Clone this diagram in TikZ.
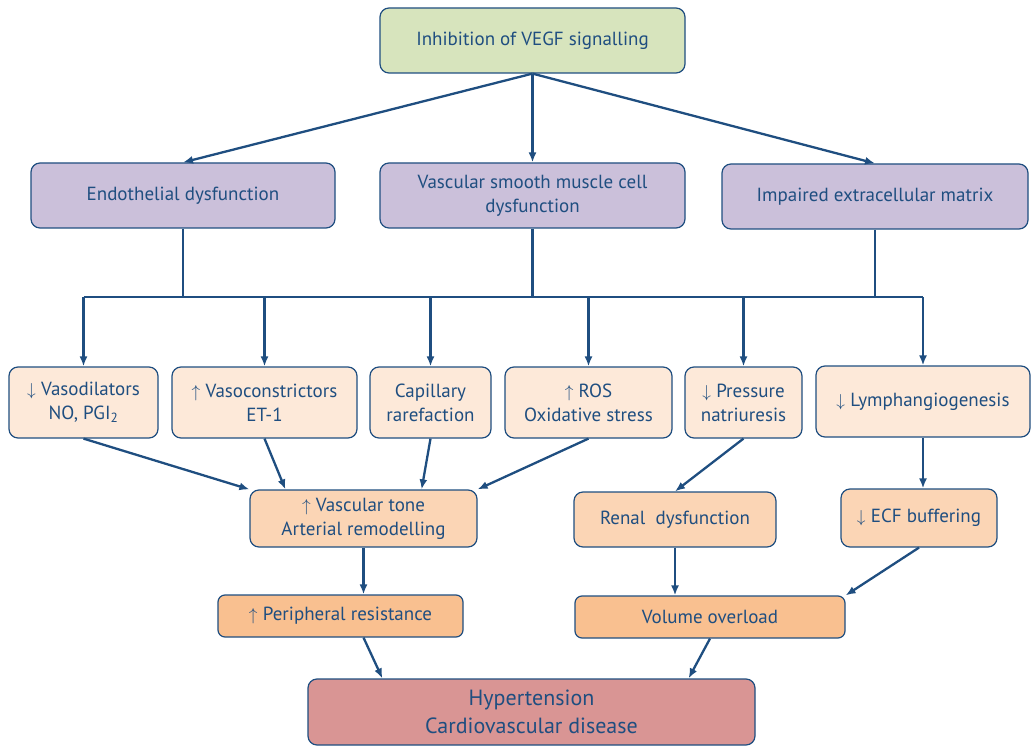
\documentclass[tikz,border=0pt]{standalone}
\usepackage{fontspec}
\setmainfont{PT Sans}
\usetikzlibrary{arrows.meta,positioning}

\definecolor{ink}{HTML}{1F4E80}
\definecolor{topfill}{HTML}{D7E4BD}
\definecolor{midfill}{HTML}{CBC0DA}
\definecolor{lowfill}{HTML}{FDE9D9}
\definecolor{tonefill}{HTML}{FBD5B5}
\definecolor{loadfill}{HTML}{F9C090}
\definecolor{endfill}{HTML}{D99594}

\tikzset{
  box/.style={draw=ink, line width=1.2pt, rounded corners=9pt, text=ink,
    align=center, inner sep=0pt, font=\fontsize{19}{24}\selectfont},
  link/.style={draw=ink, line width=2.3pt},
  fine/.style={draw=ink, line width=1.1pt}
}
\newcommand{\upa}{$\uparrow$\;}
\newcommand{\dna}{$\downarrow$\;}

\begin{document}
\begin{tikzpicture}[x=1pt,y=-1pt,>={Latex[length=10pt,width=8pt]}]
  \useasboundingbox (0,0) rectangle (1031,746);
  \node[box, fill=topfill, minimum width=305pt, minimum height=65pt] (vegf) at (532.5,40.5) {Inhibition of VEGF signalling};
  \node[box, fill=midfill, minimum width=304pt, minimum height=65pt] (endo) at (183,195.5) {Endothelial dysfunction};
  \node[box, fill=midfill, minimum width=305pt, minimum height=65pt] (vsmc) at (532.5,195.5) {Vascular smooth muscle cell\\dysfunction};
  \node[box, fill=midfill, minimum width=306pt, minimum height=65pt] (ecm) at (875,196.5) {Impaired extracellular matrix};
  \node[box, fill=lowfill, minimum width=149pt, minimum height=71pt] (vdil) at (83.5,402.5) {\dna Vasodilators\\NO, PGI\textsubscript{2}};
  \node[box, fill=lowfill, minimum width=185pt, minimum height=71pt] (vcon) at (264.5,402.5) {\upa Vasoconstrictors\\ET-1};
  \node[box, fill=lowfill, minimum width=121pt, minimum height=71pt] (cap) at (430.5,402.5) {Capillary\\rarefaction};
  \node[box, fill=lowfill, minimum width=167pt, minimum height=71pt] (ros) at (588.5,402.5) {\upa ROS\\Oxidative stress};
  \node[box, fill=lowfill, minimum width=117pt, minimum height=71pt] (pres) at (743.5,402.5) {\dna Pressure\\natriuresis};
  \node[box, fill=lowfill, minimum width=214pt, minimum height=71pt] (lymph) at (923,401.5) {\dna Lymphangiogenesis};
  \node[box, fill=tonefill, minimum width=227pt, minimum height=57pt] (tone) at (363.5,518.5) {\upa Vascular tone\\Arterial remodelling};
  \node[box, fill=tonefill, minimum width=202pt, minimum height=55pt] (renal) at (675,519.5) {Renal~ dysfunction};
  \node[box, fill=tonefill, minimum width=156pt, minimum height=58pt] (ecf) at (919,518) {\dna ECF buffering};
  \node[box, fill=loadfill, minimum width=245pt, minimum height=42pt, rounded corners=7pt] (peri) at (340.5,616) {\upa Peripheral resistance};
  \node[box, fill=loadfill, minimum width=270pt, minimum height=42pt, rounded corners=7pt] (vol) at (710,617) {Volume overload};
  \node[box, fill=endfill, minimum width=447pt, minimum height=66pt, font=\fontsize{22}{28}\selectfont] (hyp) at (531.5,712) {Hypertension\\Cardiovascular disease};

  \coordinate (bus) at (0,297);
  \draw[->, link] (vegf.south) -- (endo.north);
  \draw[->, link] (vegf.south) -- (vsmc.north);
  \draw[->, link] (vegf.south) -- (ecm.north);
  \draw[fine] (endo.south) -- (endo.south |- bus);
  \draw[fine] (ecm.south) -- (ecm.south |- bus);
  \draw[link] (vsmc.south) -- (vsmc.south |- bus);
  \draw[link] (vdil.north |- bus) -- (lymph.north |- bus);
  \foreach \n in {vdil,vcon,cap,ros,pres,lymph}
    \draw[->, link] (\n.north |- bus) -- (\n.north);
  \draw[->, link] (vdil.south) -- (tone.north west);
  \draw[->, link] (vcon.south) -- ([xshift=36pt]tone.north west);
  \draw[->, link] (cap.south) -- ([xshift=-56pt]tone.north east);
  \draw[->, link] (ros.south) -- (tone.north east);
  \draw[->, link] (pres.south) -- (renal.north);
  \draw[->, link] (lymph.south) -- (lymph.south |- ecf.north);
  \draw[->, link] (tone.south) -- (tone.south |- peri.north);
  \draw[->, link] (renal.south) -- (renal.south |- vol.north);
  \draw[->, link] (ecf.south) -- (vol.north east);
  \draw[->, link] (tone.south |- peri.south) -- ([xshift=75pt]hyp.north west);
  \draw[->, link] (vol.south) -- ([xshift=-67pt]hyp.north east);
\end{tikzpicture}
\end{document}
